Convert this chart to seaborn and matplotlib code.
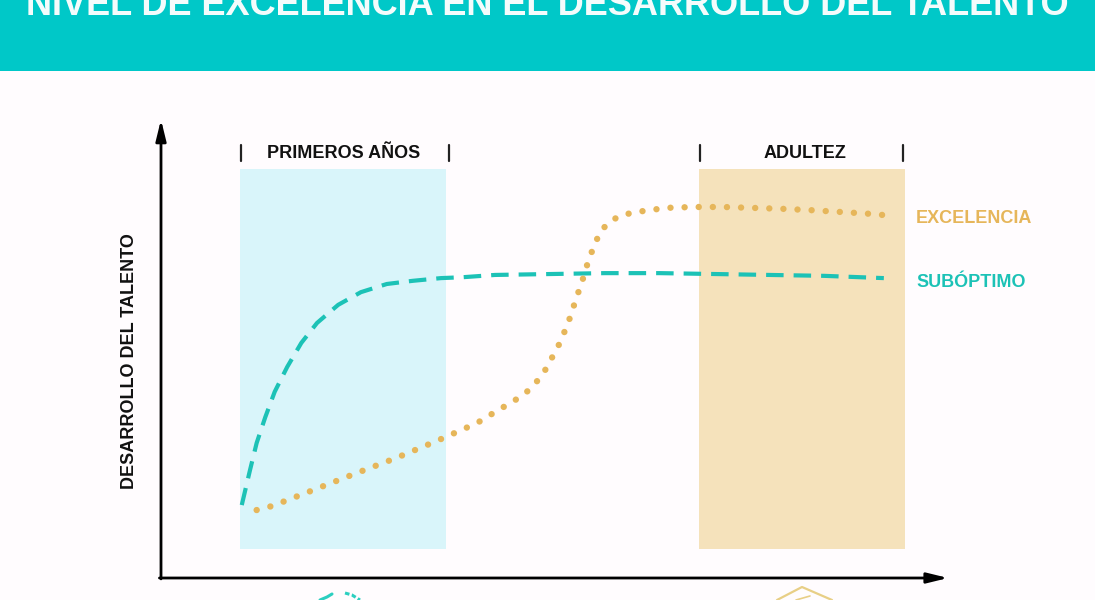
import matplotlib
matplotlib.use('Agg')
import matplotlib.pyplot as plt
import numpy as np
import pandas as pd
import seaborn as sns

# values on a 0-100 scale
sub_x = [10.3, 11.35, 12.2, 13.3, 14.5, 16.1, 17.9, 19.9, 22.6, 25.5, 28.8, 32.1, 35.7, 38.5, 42.6, 49.6, 56.6, 63.6, 70.7, 77.6, 84.6, 92.2]
sub_y = [16.1, 23.8, 29.8, 35.5, 41.1, 46.6, 51.9, 56.3, 60.3, 63.1, 64.9, 65.6, 66.2, 66.4, 66.9, 67.1, 67.3, 67.3, 67.1, 66.9, 66.7, 66.2]
exc_x = [12.2, 14.2, 19.4, 24.7, 30.0, 35.1, 40.3, 42.0, 45.2, 46.8, 48.1, 49.2, 50.1, 51.0, 51.7, 52.4, 52.9, 53.6, 54.1,
         54.7, 55.4, 56.1, 57.3, 58.8, 60.6, 62.4, 64.3, 67.9, 71.7, 75.5, 79.2, 82.9, 86.7, 90.4, 92.3]
exc_y = [15.0, 15.9, 19.4, 23.0, 26.5, 30.2, 34.2, 36.0, 39.3, 41.3, 43.7, 46.4, 49.4, 52.3, 55.4, 58.5, 61.6, 64.7, 67.8,
         70.9, 74.0, 76.6, 78.8, 80.1, 80.8, 81.2, 81.7, 81.9, 81.9, 81.7, 81.5, 81.2, 80.8, 80.4, 80.1]

stages = ['PRIMEROS AÑOS', 'ADULTEZ']
stage_start = [10.1, 68.6]
stage_end = [36.4, 94.9]
stage_colors = ['#D9F5FA', '#F5E2BB']

teal = '#1CC2B6'
gold = '#E6B65A'

sns.set_style('white')
plt.rcParams['font.family'] = ['Liberation Sans', 'DejaVu Sans']

fig = plt.figure(figsize=(10.95, 6.0), dpi=100, facecolor='#FFFCFE')

# header band and clipped title
bg = fig.add_axes([0, 0, 1, 1])
bg.set_xlim(0, 1095)
bg.set_ylim(600, 0)
bg.axis('off')
bg.axhspan(0, 71, color='#00C8C8', lw=0)
bg.text(547.5, 15, 'NIVEL DE EXCELENCIA EN EL DESARROLLO DEL TALENTO', color='#F4FCFC',
        fontsize=26, fontweight='bold', ha='center', va='baseline')

# bits of the icons cut off by the bottom edge
bg.plot([320, 327, 332], [600, 597, 594], color='#2CCFC0', lw=2.2)
bg.plot([345, 352, 360], [593, 595, 600], color='#2CCFC0', lw=2.2, ls=(0, (1.5, 0.8)))
bg.plot([777, 802, 832], [600, 587, 600], color='#E8CF86', lw=1.6)
bg.plot([796, 810], [600, 596], color='#E8CF86', lw=1.2)

ax = fig.add_axes([161 / 1095, 22 / 600, 784 / 1095, 453 / 600])
ax.patch.set_alpha(0)
ax.set_xlim(0, 100)
ax.set_ylim(0, 100)
ax.set_xticks([])
ax.set_yticks([])
sns.despine(ax=ax, left=True, bottom=True, top=True, right=True)

for start, end, c in zip(stage_start, stage_end, stage_colors):
    ax.axvspan(start, end, ymin=0.064, ymax=0.903, color=c, lw=0)

sns.lineplot(x=sub_x, y=sub_y, ax=ax, color=teal, lw=3.0, sort=False, estimator=None,
             linestyle=(0, (4.2, 2.4)), dash_capstyle='butt')
sns.lineplot(x=exc_x, y=exc_y, ax=ax, color=gold, lw=4.6, sort=False, estimator=None,
             linestyle=(0, (0.01, 2.2)), dash_capstyle='round')

# arrows for the axes
head = '-|>,head_length=0.9,head_width=0.22'
ax.annotate('', xy=(0, 1.012), xytext=(0, -0.002), xycoords='axes fraction',
            arrowprops=dict(arrowstyle=head, color='black', lw=2, shrinkA=0, shrinkB=0, mutation_scale=14))
ax.annotate('', xy=(1.004, 0), xytext=(-0.002, 0), xycoords='axes fraction',
            arrowprops=dict(arrowstyle=head, color='black', lw=2, shrinkA=0, shrinkB=0, mutation_scale=14))

# stage labels with their end marks
label_x = [23.3, 82.1]
for name, lx, start, end in zip(stages, label_x, [10.2, 68.7], [36.7, 94.6]):
    ax.text(lx, 93.8, name, fontsize=13, fontweight='bold', ha='center', va='center', color='#111111')
    for xv in (start, end):
        ax.plot([xv, xv], [92.05, 95.6], color='#222222', lw=1.6)

ax.text(96.3, 79.4, 'EXCELENCIA', color=gold, fontsize=13, fontweight='bold', va='center', clip_on=False)
ax.text(96.3, 65.3, 'SUBÓPTIMO', color=teal, fontsize=13, fontweight='bold', va='center', clip_on=False)
ax.text(-4.0, 47.9, 'DESARROLLO DEL TALENTO', color='#111111', fontsize=13, fontweight='bold',
        rotation=90, ha='center', va='center')

fig.savefig('out.png', dpi=100, facecolor=fig.get_facecolor())
